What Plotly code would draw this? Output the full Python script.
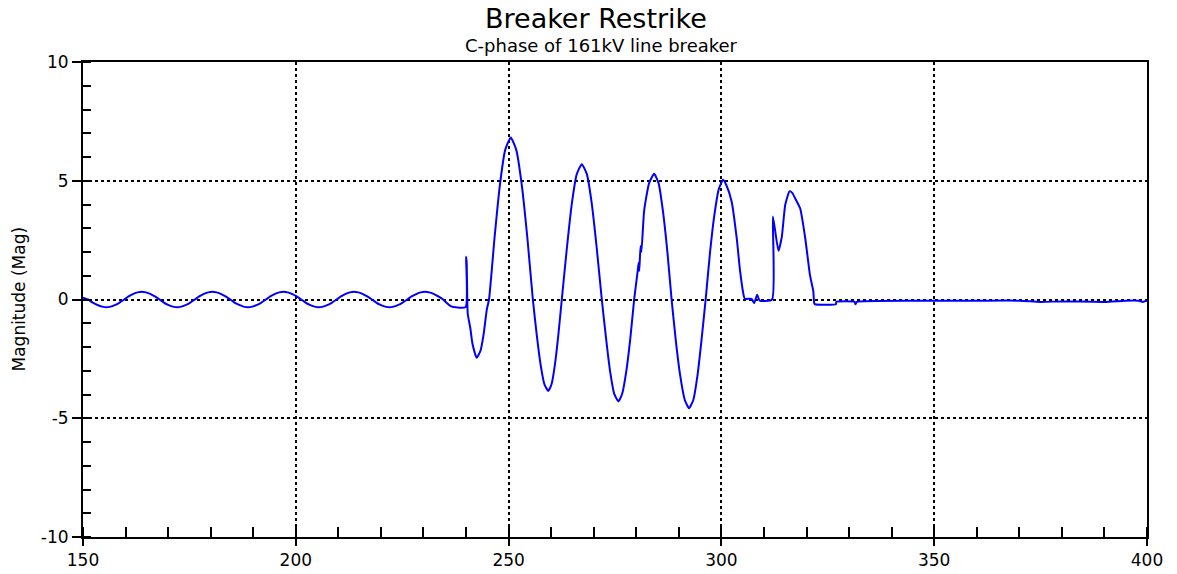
import plotly.graph_objects as go

# ---- data (time in ms, magnitude) ----
time_ms = [
    150.0, 151.2, 152.3, 153.4, 154.5, 155.5, 156.5, 157.6, 158.6, 159.7,
    160.7, 161.7, 162.8, 163.8, 164.8, 165.9, 166.9, 168.0, 169.0, 170.0,
    171.1, 172.1, 173.1, 174.2, 175.2, 176.3, 177.3, 178.3, 179.4, 180.4,
    181.4, 182.5, 183.5, 184.6, 185.6, 186.7, 187.7, 188.8, 189.8, 190.9,
    191.9, 193.0, 194.0, 195.0, 196.1, 197.1, 198.1, 199.2, 200.2, 201.3,
    202.3, 203.3, 204.4, 205.4, 206.4, 207.5, 208.5, 209.6, 210.6, 211.6,
    212.7, 213.7, 214.7, 215.8, 216.8, 217.9, 218.9, 219.9, 221.0, 222.0,
    223.0, 224.1, 225.1, 226.2, 227.2, 228.3, 229.3, 230.4, 231.4, 232.5,
    233.5, 234.6, 235.5, 236.3, 237.0, 239.9,
    240.0, 240.15, 240.4, 241.0, 241.5, 242.5, 243.4, 244.1, 244.9, 245.4,
    246.7, 247.95, 249.2, 250.5, 251.8, 253.1, 254.4, 255.7,
    256.6, 257.5, 258.4, 259.3, 260.1, 260.9, 261.7, 262.5,
    263.7, 264.85, 266.0, 267.2, 268.4, 269.55, 270.7, 271.9,
    272.9, 273.85, 274.8, 275.8, 276.7, 277.65, 278.6, 279.5,
    280.3, 280.55, 280.7, 281.0, 281.2, 281.85, 283.0, 284.2,
    285.25, 286.25, 287.3, 288.3, 289.3, 290.35, 291.4, 292.4,
    293.4, 294.35, 295.3, 296.3, 297.3, 298.35, 299.4, 300.4,
    301.2, 302.4, 303.6, 304.4, 305.2, 305.5, 307.1, 307.7, 308.4, 309.0,
    311.9, 312.1, 313.4, 314.2, 315.0, 316.0, 316.6, 317.5, 318.5, 319.7,
    320.8, 321.6, 321.8, 322.0, 326.9, 327.0, 331.3, 331.5, 331.8, 350.0,
    360.0, 370.0, 375.0, 380.0, 390.0, 395.0, 398.0, 399.0, 400.0,
]
magnitude = [
    0.08, 0.0, -0.13, -0.23, -0.30, -0.33, -0.30, -0.23, -0.13, 0.0,
    0.13, 0.23, 0.30, 0.33, 0.30, 0.23, 0.13, 0.0, -0.13, -0.23,
    -0.30, -0.33, -0.30, -0.23, -0.13, 0.0, 0.13, 0.23, 0.30, 0.33,
    0.30, 0.23, 0.13, 0.0, -0.13, -0.23, -0.30, -0.33, -0.30, -0.23,
    -0.13, 0.0, 0.13, 0.23, 0.30, 0.33, 0.30, 0.23, 0.13, 0.0,
    -0.13, -0.23, -0.30, -0.33, -0.30, -0.23, -0.13, 0.0, 0.13, 0.23,
    0.30, 0.33, 0.30, 0.23, 0.13, 0.0, -0.13, -0.23, -0.30, -0.33,
    -0.30, -0.23, -0.13, 0.0, 0.13, 0.23, 0.30, 0.33, 0.30, 0.23,
    0.13, 0.0, -0.15, -0.27, -0.32, -0.32,
    1.8, 1.55, -0.6, -1.2, -1.85, -2.45, -2.15, -1.5, -0.4, 0.0,
    2.61, 4.82, 6.30, 6.82, 6.30, 4.82, 2.61, 0.0,
    -1.47, -2.72, -3.56, -3.85, -3.56, -2.72, -1.47, 0.0,
    2.18, 4.03, 5.27, 5.70, 5.27, 4.03, 2.18, 0.0,
    -1.64, -3.03, -3.96, -4.29, -3.96, -3.03, -1.64, 0.0,
    1.15, 1.55, 1.2, 2.25, 2.0, 3.74, 4.89, 5.29,
    4.89, 3.74, 2.02, 0.0, -1.75, -3.24, -4.23, -4.58,
    -4.23, -3.24, -1.75, 0.0, 1.93, 3.56, 4.66, 5.04,
    4.8, 4.13, 2.58, 1.18, 0.2, 0.03, 0.03, -0.15, 0.2, -0.05,
    0.0, 3.5, 2.05, 2.65, 3.99, 4.55, 4.5, 4.2, 3.84, 2.58,
    1.04, 0.34, -0.15, -0.2, -0.2, -0.1, -0.1, -0.2, -0.1, -0.05,
    -0.05, -0.05, -0.1, -0.08, -0.1, -0.05, -0.05, -0.1, -0.05,
]

x_range = [150, 400]
y_range = [-10, 10]
y_tick_values = [-10, -5, 0, 5, 10]
y_tick_labels = ["-10", "-5", "0", "5", "10"]
title_text = "Breaker Restrike"
subtitle_text = "C-phase of 161kV line breaker"
y_title = "Magnitude (Mag)"

FONT = "DejaVu Sans"

fig = go.Figure()
fig.add_trace(go.Scatter(
    x=time_ms, y=magnitude, mode="lines",
    line=dict(color="#0000FF", width=2, shape="spline", smoothing=0.5),
    showlegend=False,
))

axis_common = dict(
    showline=True, linecolor="black", linewidth=2, mirror=True,
    showgrid=True, gridcolor="black", gridwidth=1.5, griddash="dot",
    zeroline=False, automargin=False,
    ticks="outside", tickcolor="black", tickwidth=2,
    tickfont=dict(family=FONT, size=17, color="black"),
)

fig.update_xaxes(
    range=x_range, dtick=50, tick0=150, ticklen=7,
    minor=dict(ticks="inside", dtick=10, tick0=150, ticklen=10,
               tickcolor="black", tickwidth=2, showgrid=False),
    **axis_common,
)
fig.update_yaxes(
    range=y_range, tickmode="array", tickvals=y_tick_values,
    ticktext=y_tick_labels, ticklen=9,
    minor=dict(ticks="inside", dtick=1, tick0=-10, ticklen=8,
               tickcolor="black", tickwidth=2, showgrid=False),
    **axis_common,
)

PLOT_H = 574 - 62 - 37


def paper_y(px_from_top):
    return 1 + (62 - px_from_top) / PLOT_H


fig.update_layout(
    width=1177, height=574, autosize=False,
    margin=dict(l=83, r=30, t=62, b=37, autoexpand=False),
    paper_bgcolor="white", plot_bgcolor="white",
    font=dict(family=FONT, color="black"),
    annotations=[
        dict(text=title_text, xref="paper", yref="paper", x=0.4826,
             y=paper_y(18.5), xanchor="center", yanchor="middle",
             showarrow=False, borderpad=0,
             font=dict(family=FONT, size=27, color="black")),
        dict(text=subtitle_text, xref="paper", yref="paper", x=0.487,
             y=paper_y(45.5), xanchor="center", yanchor="middle",
             showarrow=False, borderpad=0,
             font=dict(family=FONT, size=18, color="black")),
        dict(text=y_title, xref="paper", yref="paper", x=(18 - 83) / 1064,
             y=0.5, xanchor="center", yanchor="middle", textangle=-90,
             showarrow=False, font=dict(family=FONT, size=17, color="black")),
    ],
)

# remove the default page margin so the figure fills the window exactly
fig.write_html("out.html",
               config={"displayModeBar": False},
               post_script="document.body.style.margin='0px';")
